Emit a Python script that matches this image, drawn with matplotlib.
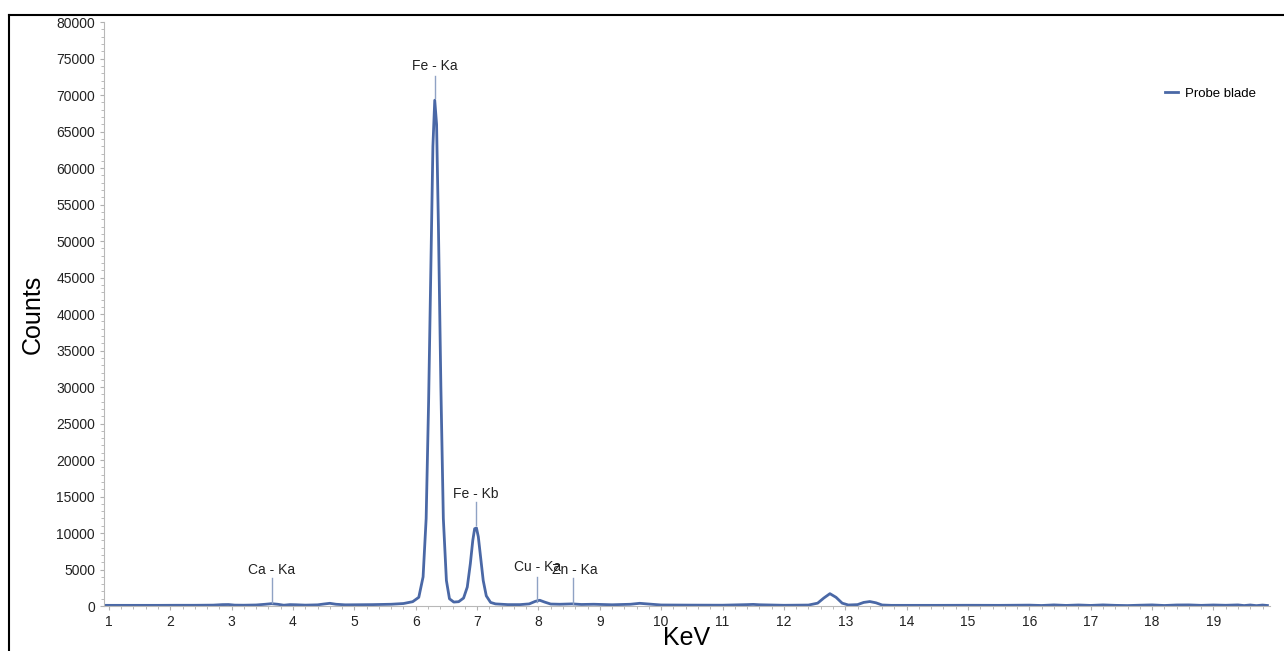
import matplotlib
matplotlib.use("Agg")
import matplotlib.pyplot as plt
from matplotlib.lines import Line2D
from matplotlib.ticker import MultipleLocator

plt.rcParams['font.family'] = ['Liberation Sans', 'DejaVu Sans']

# spectrum (keV, counts)
energy = [0.95, 1.2, 1.5, 1.8, 2.1, 2.4, 2.7, 2.85, 2.95, 3.05, 3.2, 3.4, 3.55, 3.65, 3.75,
          3.85, 3.95, 4.05, 4.2, 4.4, 4.5, 4.6, 4.7, 4.85, 5.0, 5.3, 5.6, 5.8, 5.95, 6.05,
          6.12, 6.17, 6.21, 6.25, 6.28, 6.31, 6.34, 6.37, 6.41, 6.45, 6.5, 6.55, 6.62, 6.7,
          6.78, 6.84, 6.89, 6.93, 6.96, 6.99, 7.02, 7.06, 7.1, 7.15, 7.22, 7.3, 7.5, 7.7,
          7.85, 7.95, 8.02, 8.1, 8.2, 8.35, 8.55, 8.7, 8.9, 9.2, 9.5, 9.65, 9.8, 10.0, 10.5,
          11.0, 11.4, 11.5, 11.6, 12.0, 12.4, 12.55, 12.65, 12.75, 12.85, 12.95, 13.05, 13.2,
          13.3, 13.4, 13.5, 13.6, 13.75, 14.0, 14.5, 15.0, 15.5, 16.0, 16.2, 16.4, 16.6, 16.8,
          17.0, 17.2, 17.4, 17.6, 17.8, 18.0, 18.2, 18.4, 18.6, 18.8, 19.0, 19.2, 19.4, 19.5,
          19.6, 19.7, 19.8, 19.88]
counts = [100, 100, 100, 100, 110, 110, 130, 200, 210, 130, 120, 150, 250, 330, 250,
          120, 200, 180, 130, 170, 280, 380, 250, 170, 180, 200, 250, 350, 600, 1200,
          4000, 12000, 28000, 48000, 63000, 69300, 66000, 52000, 30000, 12000, 3500, 1000, 550, 600,
          1100, 2600, 5800, 9000, 10600, 10700, 9500, 6500, 3500, 1400, 500, 300, 200, 200,
          300, 650, 800, 550, 280, 250, 300, 220, 250, 180, 250, 380, 280, 150, 130,
          120, 200, 230, 180, 110, 140, 400, 1100, 1700, 1200, 400, 150, 200,
          500, 620, 450, 150, 100, 100, 100, 110, 100, 130, 80, 160, 90, 150,
          90, 160, 100, 70, 120, 160, 80, 150, 160, 100, 150, 110, 160, 70,
          150, 60, 140, 80]

# element markers: position, line bottom, line top, label height
peak_names = ['Ca - Ka', 'Fe - Ka', 'Fe - Kb', 'Cu - Ka', 'Zn - Ka']
peak_pos = [3.65, 6.31, 6.98, 7.98, 8.56]
label_pos = [3.65, 6.31, 6.98, 7.98, 8.6]
mark_low = [400, 69600, 11100, 600, 300]
mark_high = [3900, 72600, 14200, 4000, 3900]
label_y = [5000, 74000, 15400, 5400, 5000]

fig = plt.figure(figsize=(12.84, 6.51), dpi=100)
ax = fig.add_axes([0.081, 0.069, 0.908, 0.897])

line_col = '#4a68a6'
ax.plot(energy, counts, color=line_col, lw=2, label='Probe blade')

for name, p, lp, lo, hi, ly in zip(peak_names, peak_pos, label_pos, mark_low, mark_high, label_y):
    ax.plot([p, p], [lo, hi], color='#8fa2c4', lw=1)
    ax.text(lp, ly, name, ha='center', va='center', fontsize=10, color='#222222')

ax.set_xlim(0.92, 19.92)
ax.set_ylim(0, 80000)
ax.xaxis.set_major_locator(MultipleLocator(1))
ax.xaxis.set_minor_locator(MultipleLocator(0.2))
ax.yaxis.set_major_locator(MultipleLocator(5000))
ax.yaxis.set_minor_locator(MultipleLocator(1000))
ax.tick_params(which='both', direction='out', colors='#b0b0b0', labelcolor='#222222', labelsize=10)
ax.tick_params(which='major', length=3)
ax.tick_params(which='minor', length=2)
for s in ['top', 'right']:
    ax.spines[s].set_visible(False)
for s in ['left', 'bottom']:
    ax.spines[s].set_color('#b8b8b8')

ax.set_xlabel('KeV', fontsize=18, labelpad=-2)
ax.set_ylabel('Counts', fontsize=18, labelpad=8)

ax.legend(loc='center right', bbox_to_anchor=(0.998, 0.877), frameon=False,
          fontsize=9.5, handlelength=1.0, handletextpad=0.5)

# outer frame, left and top edges only
fig.add_artist(Line2D([0.007, 0.007], [0, 0.977], color='black', lw=1.5, transform=fig.transFigure))
fig.add_artist(Line2D([0.007, 1.0], [0.977, 0.977], color='black', lw=1.5, transform=fig.transFigure))

fig.savefig('out.png', dpi=100)
